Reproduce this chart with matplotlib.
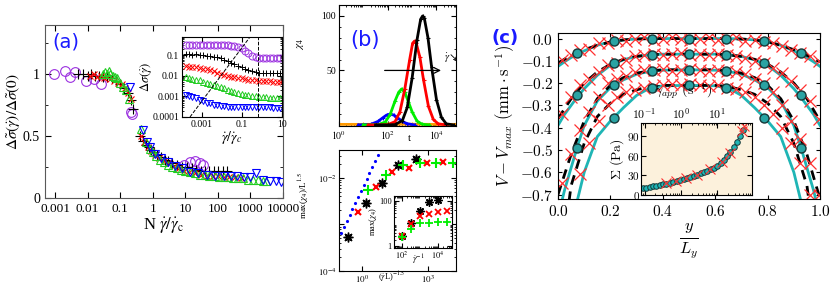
import numpy as np
import matplotlib
matplotlib.use("Agg")
import matplotlib.pyplot as plt
from matplotlib.ticker import FuncFormatter, NullFormatter, LogLocator

plt.rcParams['font.family'] = ['Liberation Serif', 'DejaVu Sans']
plt.rcParams['mathtext.fontset'] = 'cm'

# ---------------- panel (a): collapse of stress fluctuations
purple_x = [0.0009, 0.002, 0.0028, 0.004, 0.009, 0.016, 0.025, 0.21, 0.23, 9, 14, 20, 28, 35]
purple_y = [1.0, 1.03, 0.98, 1.02, 0.95, 0.96, 0.92, 0.7, 0.68, 0.27, 0.29, 0.3, 0.28, 0.27]
black_x = [0.005, 0.007, 0.01, 0.013, 0.017, 0.022, 0.03, 0.04, 0.055, 0.075, 0.1, 0.13, 0.17, 0.21,
           0.24, 0.42, 0.5, 0.6, 0.75, 0.9, 1.1, 1.4, 1.8, 2.4, 3, 4, 5.5, 8, 11, 16, 22, 30, 40, 55,
           75, 100, 140, 190]
black_y = [1.0, 1.0, 0.99, 1.0, 0.99, 0.99, 0.98, 0.98, 0.97, 0.95, 0.92, 0.89, 0.85, 0.79,
           0.72, 0.5, 0.46, 0.43, 0.41, 0.39, 0.37, 0.35, 0.33, 0.31, 0.3, 0.28, 0.27, 0.25, 0.25,
           0.24, 0.23, 0.22, 0.22, 0.22, 0.22, 0.22, 0.22, 0.22]
red_x = [0.012, 0.016, 0.02, 0.025, 0.032, 0.04, 0.05, 0.065, 0.085, 0.11, 0.14, 0.18, 0.22, 0.45,
         0.55, 0.7, 0.9, 1.2, 1.6, 2.2, 3, 4.5, 6.5, 9, 13, 20, 30, 45, 70, 100, 150, 220, 330, 500]
red_y = [0.99, 1.0, 0.98, 0.99, 0.97, 0.98, 0.96, 0.95, 0.93, 0.92, 0.89, 0.85, 0.8, 0.5,
         0.45, 0.41, 0.38, 0.35, 0.32, 0.3, 0.28, 0.26, 0.24, 0.22, 0.21, 0.2, 0.19, 0.18, 0.18,
         0.18, 0.17, 0.17, 0.17, 0.16]
green_x = [0.03, 0.035, 0.04, 0.045, 0.05, 0.06, 0.07, 0.08, 0.1, 0.12, 0.15, 0.19, 0.45, 0.6, 0.8,
           1.0, 1.3, 1.7, 2.2, 3, 4, 5.5, 7.5, 10, 14, 20, 28, 40, 55, 80, 110, 150, 210, 300, 420,
           600, 850, 1200, 1700, 2400, 3000]
green_y = [1.0, 1.02, 1.0, 1.03, 1.0, 0.99, 0.98, 0.97, 0.93, 0.9, 0.87, 0.8, 0.56, 0.45, 0.4,
           0.37, 0.34, 0.31, 0.29, 0.27, 0.25, 0.24, 0.23, 0.22, 0.21, 0.2, 0.19, 0.19, 0.18, 0.18,
           0.17, 0.17, 0.17, 0.16, 0.16, 0.16, 0.15, 0.15, 0.15, 0.14, 0.14]
blue_x = [0.2, 0.5, 0.65, 0.85, 1.2, 1.8, 3, 5, 8, 14, 25, 45, 80, 150, 250, 400, 650, 1000, 1500,
          2500, 4000, 6000, 9000]
blue_y = [0.9, 0.55, 0.45, 0.41, 0.36, 0.32, 0.29, 0.26, 0.24, 0.21, 0.2, 0.19, 0.18, 0.18, 0.18,
          0.18, 0.17, 0.17, 0.2, 0.15, 0.14, 0.14, 0.13]

# inset of (a)
ins_x = [0.00015, 0.00022, 0.00033, 0.0005, 0.00075, 0.0011, 0.0017, 0.0025, 0.0038, 0.0056,
         0.0085, 0.013, 0.019, 0.028, 0.042, 0.063, 0.095, 0.14, 0.21, 0.32, 0.48, 0.72, 1.1,
         1.6, 2.4, 3.6, 5.4, 8.1]
ins_purple = [0.30, 0.31, 0.30, 0.29, 0.30, 0.31, 0.30, 0.29, 0.30, 0.30, 0.29, 0.30, 0.29, 0.28,
              0.27, 0.25, 0.21, 0.16, 0.12, 0.095, 0.08, 0.075, 0.072, 0.075, 0.07, 0.072, 0.07,
              0.071]
ins_black = [0.11, 0.11, 0.105, 0.11, 0.1, 0.1, 0.095, 0.09, 0.085, 0.08, 0.07, 0.06, 0.05, 0.042,
             0.035, 0.03, 0.025, 0.021, 0.018, 0.016, 0.015, 0.014, 0.014, 0.013, 0.013, 0.013,
             0.013, 0.013]
ins_red = [0.028, 0.027, 0.026, 0.025, 0.024, 0.022, 0.02, 0.018, 0.016, 0.014, 0.012, 0.011,
           0.01, 0.009, 0.0085, 0.008, 0.0075, 0.007, 0.0065, 0.006, 0.006, 0.0055, 0.0055,
           0.0055, 0.0055, 0.005, 0.005, 0.005]
ins_green = [0.009, 0.008, 0.007, 0.0065, 0.006, 0.005, 0.0045, 0.004, 0.0035, 0.003, 0.0027,
             0.0024, 0.0021, 0.0019, 0.0017, 0.0015, 0.0013, 0.0012, 0.0011, 0.001, 0.001, 0.0009,
             0.0009, 0.0009, 0.00085, 0.0008, 0.0008, 0.0008]
ins_blue = [0.0012, 0.001, 0.0009, 0.0008, 0.0007, 0.0006, 0.0005, 0.00045, 0.0004, 0.00038,
            0.00035, 0.00033, 0.00032, 0.0003, 0.0003, 0.0003, 0.0003, 0.00029, 0.0003, 0.0003,
            0.00029, 0.0003, 0.0003, 0.00029, 0.0003, 0.00028, 0.00028, 0.00028]
diag_x = [2.5e-4, 0.25]
diag_y = [1e-4, 0.75]
crit_x = 0.6

# ---------------- panel (b) top: chi4(t), t values as log10
blk_lt = [1.5, 2.0, 2.3, 2.6, 2.8, 3.0, 3.2, 3.35, 3.43, 3.5, 3.65, 3.8, 4.0, 4.2, 4.4, 4.7]
blk_chi = [0, 0, 0.3, 4, 16, 43, 78, 97, 100, 98, 80, 53, 23, 7, 1, 0]
red_lt = [1.2, 1.7, 2.0, 2.3, 2.5, 2.7, 2.9, 3.02, 3.1, 3.17, 3.32, 3.47, 3.67, 3.87, 4.07, 4.4]
red_chi = [0, 0, 0.2, 3, 12, 33, 60, 75, 77, 75, 62, 41, 17, 5, 1, 0]
grn_lt = [1.0, 1.6, 1.9, 2.1, 2.3, 2.45, 2.57, 2.7, 2.85, 3.0, 3.2, 3.4, 3.7]
grn_chi = [0, 0.2, 2.7, 9.6, 22, 30, 33, 30, 21, 12, 3.6, 0.7, 0]
blu_lt = [0.8, 1.3, 1.6, 1.8, 1.95, 2.1, 2.25, 2.4, 2.6, 2.8, 3.1]
blu_chi = [0, 0.5, 3.2, 6.6, 9, 10, 9, 6.6, 3.2, 1.1, 0]
org_lt = [0, 1, 2, 3, 4, 4.8]
org_chi = [0.5, 0.5, 0.6, 0.6, 0.5, 0.5]

# ---------------- panel (b) bottom: max(chi4)/L^1.5
bdots_x = [0.11, 0.15, 0.2, 0.27, 0.36, 0.48, 0.65, 0.87, 1.2, 1.6, 2.1, 2.8, 3.8, 5.1]
bdots_y = [6.5e-4, 9e-4, 1.2e-3, 1.6e-3, 2.2e-3, 2.9e-3, 3.9e-3, 5.2e-3, 7e-3, 9.5e-3, 1.25e-2,
           1.7e-2, 2.3e-2, 3.1e-2]
bblack_x = [0.23, 1.5, 8.1, 43, 280]
bblack_y = [5.4e-4, 2.9e-3, 7.8e-3, 0.019, 0.026]
bred_x = [0.66, 4.3, 23, 137, 900, 4800]
bred_y = [1.9e-3, 6.4e-3, 0.0135, 0.0166, 0.021, 0.022]
bgreen_x = [1.9, 12, 73, 430, 2300, 13600]
bgreen_y = [5.5e-3, 0.0115, 0.019, 0.021, 0.021, 0.021]
# inset: max(chi4) vs 1/gamma_dot
binv_x = [1e2, 3.16e2, 1e3, 3.16e3, 1e4, 3.16e4]
binv_black = [2.9, 10.5, 36, 85, 107]
binv_red = [2.9, 10, 21, 25, 32, 36]
binv_green = [2.5, 5.9, 11, 11, 12, 12]

# ---------------- panel (c): velocity profiles
cx = [0, 0.025, 0.05, 0.075, 0.1, 0.15, 0.2, 0.25, 0.3, 0.35, 0.4, 0.5, 0.6, 0.65, 0.7, 0.75,
      0.8, 0.85, 0.9, 0.925, 0.95, 0.975, 1.0]
cyan1 = [-0.125, -0.104, -0.085, -0.069, -0.055, -0.03, -0.015, -0.006, -0.002, 0, 0, 0, 0, 0,
         -0.002, -0.006, -0.015, -0.03, -0.055, -0.069, -0.085, -0.104, -0.125]
cyan2 = [-0.39, -0.34, -0.30, -0.26, -0.225, -0.165, -0.12, -0.095, -0.08, -0.073, -0.07, -0.07,
         -0.07, -0.073, -0.08, -0.095, -0.12, -0.165, -0.225, -0.26, -0.30, -0.34, -0.39]
cyan3 = [-0.8, -0.68, -0.58, -0.48, -0.39, -0.28, -0.22, -0.185, -0.16, -0.147, -0.142, -0.14,
         -0.142, -0.147, -0.16, -0.185, -0.22, -0.28, -0.39, -0.48, -0.58, -0.68, -0.8]
cyan4 = [-1.2, -1.0, -0.85, -0.72, -0.6, -0.44, -0.37, -0.31, -0.255, -0.222, -0.212, -0.21,
         -0.212, -0.222, -0.255, -0.31, -0.37, -0.44, -0.6, -0.72, -0.85, -1.0, -1.2]
dx = [0, 0.05, 0.1, 0.15, 0.2, 0.25, 0.3, 0.35, 0.4, 0.5, 0.6, 0.65, 0.7, 0.75, 0.8, 0.85, 0.9,
      0.95, 1.0]
dash1 = [-0.11, -0.075, -0.05, -0.03, -0.015, -0.006, -0.002, 0, 0, 0, 0, 0, -0.002, -0.006,
         -0.015, -0.03, -0.05, -0.075, -0.105]
dash2 = [-0.36, -0.27, -0.2, -0.15, -0.115, -0.093, -0.08, -0.073, -0.07, -0.07, -0.07, -0.073,
         -0.08, -0.093, -0.115, -0.15, -0.2, -0.27, -0.37]
dash3 = [-0.7, -0.52, -0.37, -0.27, -0.21, -0.175, -0.155, -0.145, -0.14, -0.14, -0.14, -0.145,
         -0.155, -0.175, -0.21, -0.27, -0.37, -0.52, -0.72]
dash4 = [-1.1, -0.66, -0.47, -0.35, -0.29, -0.25, -0.23, -0.215, -0.21, -0.21, -0.21, -0.215,
         -0.23, -0.25, -0.29, -0.35, -0.47, -0.66, -1.1]
circ_x = [0.0714, 0.2143, 0.3571, 0.5, 0.6429, 0.7857, 0.9286]
circ1 = [-0.065, -0.012, 0, 0, 0, -0.012, -0.065]
circ2 = [-0.255, -0.108, -0.072, -0.07, -0.072, -0.108, -0.255]
circ3 = [-0.49, -0.21, -0.145, -0.14, -0.145, -0.21, -0.49]
circ4 = [-0.95, -0.355, -0.22, -0.21, -0.22, -0.355, -0.95]
rx = [0.015, 0.05, 0.085, 0.12, 0.155, 0.19, 0.225, 0.26, 0.295, 0.33, 0.365, 0.4, 0.435, 0.47,
      0.505, 0.54, 0.575, 0.61, 0.645, 0.68, 0.715, 0.75, 0.785, 0.82, 0.855, 0.89, 0.925, 0.96,
      0.995]
rcross1 = [-0.095, -0.075, -0.05, -0.045, -0.02, -0.02, -0.005, -0.01, 0.0, 0.005, -0.005, 0.0,
           0.005, 0.0, -0.005, 0.0, 0.005, -0.005, 0.0, 0.005, -0.01, -0.005, -0.015, -0.02,
           -0.035, -0.05, -0.065, -0.08, -0.1]
rcross2 = [-0.34, -0.26, -0.21, -0.18, -0.15, -0.12, -0.11, -0.095, -0.08, -0.075, -0.07, -0.075,
           -0.07, -0.065, -0.075, -0.07, -0.075, -0.07, -0.075, -0.08, -0.085, -0.1, -0.11, -0.13,
           -0.155, -0.19, -0.23, -0.28, -0.36]
rcross3 = [-0.65, -0.52, -0.41, -0.33, -0.26, -0.2, -0.18, -0.17, -0.15, -0.14, -0.14, -0.135,
           -0.145, -0.14, -0.135, -0.14, -0.145, -0.14, -0.145, -0.15, -0.16, -0.18, -0.2, -0.24,
           -0.3, -0.37, -0.45, -0.56, -0.7]
rcross4 = [-0.9, -0.75, -0.61, -0.47, -0.37, -0.3, -0.26, -0.24, -0.23, -0.22, -0.215, -0.21,
           -0.205, -0.21, -0.205, -0.21, -0.215, -0.21, -0.22, -0.225, -0.24, -0.26, -0.3, -0.34,
           -0.4, -0.47, -0.56, -0.7, -0.9]
# inset of (c): flow curve
flow_x = [0.09, 0.11, 0.14, 0.17, 0.21, 0.26, 0.32, 0.4, 0.5, 0.62, 0.77, 0.95, 1.2, 1.5, 1.8,
          2.3, 2.8, 3.5, 4.3, 5.3, 6.6, 8.2, 10, 12.5, 15.5, 19, 23, 28, 34, 41, 50]
flow_y = [10, 11, 12, 13, 14, 15, 16.5, 17.5, 19, 20, 21.5, 23, 24.5, 26, 27.5, 29, 31, 33, 35,
          37, 39.5, 42, 45, 49, 54, 60, 66, 73, 81, 90, 100]
flowx_x = [0.4, 0.72, 1.4, 2.8, 6.2, 13.4, 22, 49, 55]
flowx_y = [18, 21, 25.5, 31, 39, 51, 64, 98, 106]

blue_lab = '#1a1aff'
violet = '#9b30e0'
green = '#22cc22'
teal = '#1fb5b5'

fig = plt.figure(figsize=(8.3, 2.9), dpi=100)

# ---------- (a)
ax = fig.add_axes([0.0542, 0.317, 0.2867, 0.597])
ax.set_xscale('log')
ax.plot(purple_x, purple_y, 'o', mfc='none', mec=violet, ms=7, mew=0.8)
ax.plot(black_x, black_y, '+', color='k', ms=7, mew=0.8)
ax.plot(red_x, red_y, 'x', color='red', ms=5, mew=0.8)
ax.plot(green_x, green_y, '^', mfc='none', mec=green, ms=6, mew=0.8)
ax.plot(blue_x, blue_y, 'v', mfc='none', mec='blue', ms=6, mew=0.8)
ax.set_xlim(4.9e-4, 1e4)
ax.set_ylim(0, 1.4)
xt = [1e-3, 1e-2, 1e-1, 1, 10, 100, 1000, 10000]
ax.set_xticks(xt, ['0.001', '0.01', '0.1', '1', '10', '100', '1000', '10000'])
ax.xaxis.set_minor_formatter(NullFormatter())
ax.set_yticks([0, 0.5, 1], ['0', '0.5', '1'])
ax.set_yticks([0.25, 0.75, 1.25], minor=True)
ax.tick_params(which='both', direction='in', top=True, right=True, labelsize=10)
ax.tick_params(axis='x', labelsize=9.5)
ax.tick_params(which='major', length=4)
ax.tick_params(which='minor', length=2)
for s in ax.spines.values():
    s.set_color('0.35')
ax.set_xlabel(r'N $\dot{\gamma}/\dot{\gamma}_{\rm c}$', fontsize=12, math_fontfamily='stix', labelpad=0)
ax.set_ylabel(r'$\Delta\tilde{\sigma}(\dot{\gamma})/\Delta\tilde{\sigma}(0)$', fontsize=11,
              math_fontfamily='stix', labelpad=1)
ax.text(0.03, 0.87, '(a)', transform=ax.transAxes, color=blue_lab, fontsize=14, family='DejaVu Sans')

axi = fig.add_axes([0.2193, 0.5966, 0.1205, 0.2759])
axi.set_xscale('log')
axi.set_yscale('log')
axi.plot(ins_x, ins_purple, 'o', mfc='none', mec=violet, ms=5, mew=0.7)
axi.plot(ins_x, ins_black, '+', color='k', ms=5, mew=0.7)
axi.plot(ins_x, ins_red, 'x', color='red', ms=4, mew=0.7)
axi.plot(ins_x, ins_green, '^', mfc='none', mec=green, ms=4.5, mew=0.7)
axi.plot(ins_x, ins_blue, 'v', mfc='none', mec='blue', ms=4.5, mew=0.7)
axi.plot(diag_x, diag_y, '--', color='k', lw=0.7)
axi.axvline(crit_x, ls='--', color='k', lw=0.7)
axi.set_xlim(1e-4, 10)
axi.set_ylim(1e-4, 0.75)
axi.set_xticks([1e-3, 1e-1, 10], ['0.001', '0.1', '10'])
axi.set_yticks([1e-4, 1e-3, 1e-2, 1e-1], ['0.0001', '0.001', '0.01', '0.1'])
axi.xaxis.set_minor_formatter(NullFormatter())
axi.yaxis.set_minor_formatter(NullFormatter())
axi.tick_params(which='both', direction='in', top=True, right=True, labelsize=7, pad=2)
axi.tick_params(which='minor', length=1.5)
axi.set_xlabel(r'$\dot{\gamma}/\dot{\gamma}_c$', fontsize=10, math_fontfamily='stix', labelpad=0)
axi.set_ylabel(r'$\Delta\sigma(\dot{\gamma})$', fontsize=9, math_fontfamily='stix', labelpad=-1)

# ---------- (b) top
axb = fig.add_axes([0.4084, 0.5655, 0.141, 0.417])
axb.set_xscale('log')
for lt, chi, col in [(org_lt, org_chi, '#ff9900'), (blu_lt, blu_chi, 'blue'),
                     (grn_lt, grn_chi, '#00ee00'), (red_lt, red_chi, 'red'),
                     (blk_lt, blk_chi, 'k')]:
    axb.plot(10.0 ** np.array(lt), chi, '-+', color=col, lw=2, ms=3, mew=0.8)
axb.set_xlim(1, 10 ** 4.8)
axb.set_ylim(-1, 110)
axb.set_xticks([1, 1e2, 1e4], [r'$10^0$', r'$10^2$', r'$10^4$'], math_fontfamily='stix')
axb.xaxis.set_minor_locator(LogLocator(base=10, subs=np.arange(2, 10), numticks=20))
axb.xaxis.set_minor_formatter(NullFormatter())
axb.set_yticks([50, 100], ['50', '100'])
axb.set_yticks([10, 20, 30, 40, 60, 70, 80, 90], minor=True)
axb.tick_params(which='both', direction='in', top=True, right=True, labelsize=7, pad=2)
axb.tick_params(which='minor', length=1.5)
axb.text(0.6, -0.07, 't', transform=axb.transAxes, fontsize=8, ha='center', va='top')
axb.text(-0.33, 0.68, r'$\chi_4$', transform=axb.transAxes, fontsize=8, rotation=90,
         ha='center', va='center', math_fontfamily='stix')
axb.text(0.22, 0.71, '(b)', transform=axb.transAxes, color=blue_lab, fontsize=15,
         family='DejaVu Sans', ha='center', va='center')
axb.annotate('', xy=(10 ** 4.3, 50), xytext=(10 ** 1.76, 50),
             arrowprops=dict(arrowstyle='->', color='k', lw=0.9))
axb.text(10 ** 4.3, 55, '$\\dot{\\gamma}$\u2198', fontsize=7.5, math_fontfamily='stix',
         family=['DejaVu Sans'], ha='left', va='bottom')

# ---------- (b) bottom
axc = fig.add_axes([0.4084, 0.0655, 0.141, 0.417])
axc.set_xscale('log')
axc.set_yscale('log')
axc.plot(bdots_x, bdots_y, '.', color='blue', ms=2.5)
axc.plot(bblack_x, bblack_y, marker=(8, 2, 0), ls='none', color='k', ms=7, mew=1)
axc.plot(bblack_x, bblack_y, 'o', color='k', ms=3.5)
axc.plot(bred_x, bred_y, 'x', color='red', ms=5, mew=1.5)
axc.plot(bgreen_x, bgreen_y, '+', color='#00ee00', ms=7, mew=1.5)
axc.set_xlim(10 ** -1.05, 10 ** 4.27)
axc.set_ylim(1e-4, 10 ** -1.4)
axc.set_xticks([1, 1e3], [r'$10^0$', r'$10^3$'], math_fontfamily='stix')
axc.set_yticks([1e-4, 1e-3, 1e-2], [r'$10^{-4}$', '', r'$10^{-2}$'], math_fontfamily='stix')
axc.xaxis.set_minor_formatter(NullFormatter())
axc.yaxis.set_minor_formatter(NullFormatter())
axc.tick_params(which='both', direction='in', top=True, right=True, labelsize=6.5, pad=2)
axc.tick_params(which='minor', length=1.5)
axc.text(-0.3, 0.62, r'max($\chi_4$)/L$^{1.5}$', transform=axc.transAxes, fontsize=6.5,
         rotation=90, ha='center', va='center', math_fontfamily='stix')
axc.text(0.45, -0.05, r'$(\dot{\gamma}$L)$^{-1.5}$', transform=axc.transAxes, fontsize=6,
         ha='center', va='center', math_fontfamily='stix')

axd = fig.add_axes([0.4747, 0.1448, 0.0699, 0.179])
axd.set_xscale('log')
axd.set_yscale('log')
axd.plot(binv_x[:5], binv_black, marker=(8, 2, 0), ls='none', color='k', ms=6, mew=1)
axd.plot(binv_x[:5], binv_black, 'o', color='k', ms=3)
axd.plot(binv_x, binv_red, 'x', color='red', ms=4, mew=1.3)
axd.plot(binv_x, binv_green, '+', color='#00ee00', ms=6, mew=1.3)
axd.set_xlim(10 ** 1.56, 10 ** 4.78)
axd.set_ylim(0.85, 160)
axd.set_xticks([1e2, 1e4], [r'$10^2$', r'$10^4$'], math_fontfamily='stix')
axd.set_yticks([1, 100], ['1', '100'])
axd.xaxis.set_minor_formatter(NullFormatter())
axd.yaxis.set_minor_formatter(NullFormatter())
axd.tick_params(which='both', direction='in', top=True, right=True, labelsize=6, pad=1.5)
axd.tick_params(which='minor', length=1.2)
axd.text(0.42, -0.1, r'$\dot{\gamma}^{-1}$', transform=axd.transAxes, fontsize=6.5,
         ha='center', va='top', math_fontfamily='stix')
axd.set_ylabel(r'max($\chi_4$)', fontsize=6, math_fontfamily='stix', labelpad=0)

# ---------- (c)
axe = fig.add_axes([0.6723, 0.3138, 0.3157, 0.5724])
for cy in [cyan1, cyan2, cyan3, cyan4]:
    axe.plot(cx, cy, '-', color=teal, lw=2)
for dy in [dash1, dash2, dash3, dash4]:
    axe.plot(dx, dy, '--', color='k', lw=2, dashes=(3.5, 2.5))
for ry in [rcross1, rcross2, rcross3, rcross4]:
    axe.plot(rx, ry, 'x', color='#ff3030', ms=8, mew=0.9)
for cc in [circ1, circ2, circ3, circ4]:
    axe.plot(circ_x, cc, 'o', mfc='#2aa3a3', mec='#163838', ms=6.5, mew=1)
axe.set_xlim(0, 1)
axe.set_ylim(-0.72, 0.025)
axe.set_xticks([0, 0.2, 0.4, 0.6, 0.8, 1.0])
axe.set_yticks([0, -0.1, -0.2, -0.3, -0.4, -0.5, -0.6, -0.7])
axe.xaxis.set_major_formatter(FuncFormatter(lambda v, p: '$%.1f$' % v))
axe.yaxis.set_major_formatter(FuncFormatter(lambda v, p: '$%.1f$' % (0 if abs(v) < 1e-9 else v)))
axe.tick_params(direction='in', top=True, right=True, labelsize=11, length=3)
axe.set_ylabel(r'$V-V_{max}\ (\mathrm{mm}\cdot\mathrm{s}^{-1})$', fontsize=12, labelpad=2)
axe.set_xlabel(r'$\frac{y}{L_y}$', fontsize=17, labelpad=2)
axe.text(-0.255, 0.97, '(c)', transform=axe.transAxes, color=blue_lab, fontsize=13,
         family='DejaVu Sans', fontweight='bold', ha='left', va='center')

axf = fig.add_axes([0.7723, 0.3276, 0.1337, 0.2483])
axf.set_facecolor('#fcf1dc')
axf.set_xscale('log')
axf.plot(flow_x, flow_y, '-o', color=teal, mfc=teal, mec='#163838', ms=4, mew=0.7, lw=1)
axf.plot(flowx_x, flowx_y, 'x', color='#ff3030', ms=7, mew=0.8)
axf.set_xlim(0.08, 90)
axf.set_ylim(0, 110)
axf.set_yticks([0, 30, 60, 90])
axf.yaxis.set_major_formatter(FuncFormatter(lambda v, p: '$%d$' % v))
axf.set_xticks([0.1, 1, 10], [r'$10^{-1}$', r'$10^{0}$', r'$10^{1}$'])
axf.xaxis.set_minor_formatter(NullFormatter())
axf.tick_params(which='both', direction='in', top=True, right=True, labeltop=True,
                labelbottom=False, labelsize=8.5, pad=1)
axf.tick_params(axis='y', labelsize=8)
axf.tick_params(which='minor', length=1.5)
axf.xaxis.set_label_position('top')
axf.set_xlabel(r'$\dot{\gamma}_{app}\ (\mathrm{s}^{-1})$', fontsize=10)
axf.xaxis.set_label_coords(0.38, 1.4)
axf.set_ylabel(r'$\Sigma\ (\mathrm{Pa})$', fontsize=10, labelpad=1)

fig.savefig('out.png', dpi=100)
